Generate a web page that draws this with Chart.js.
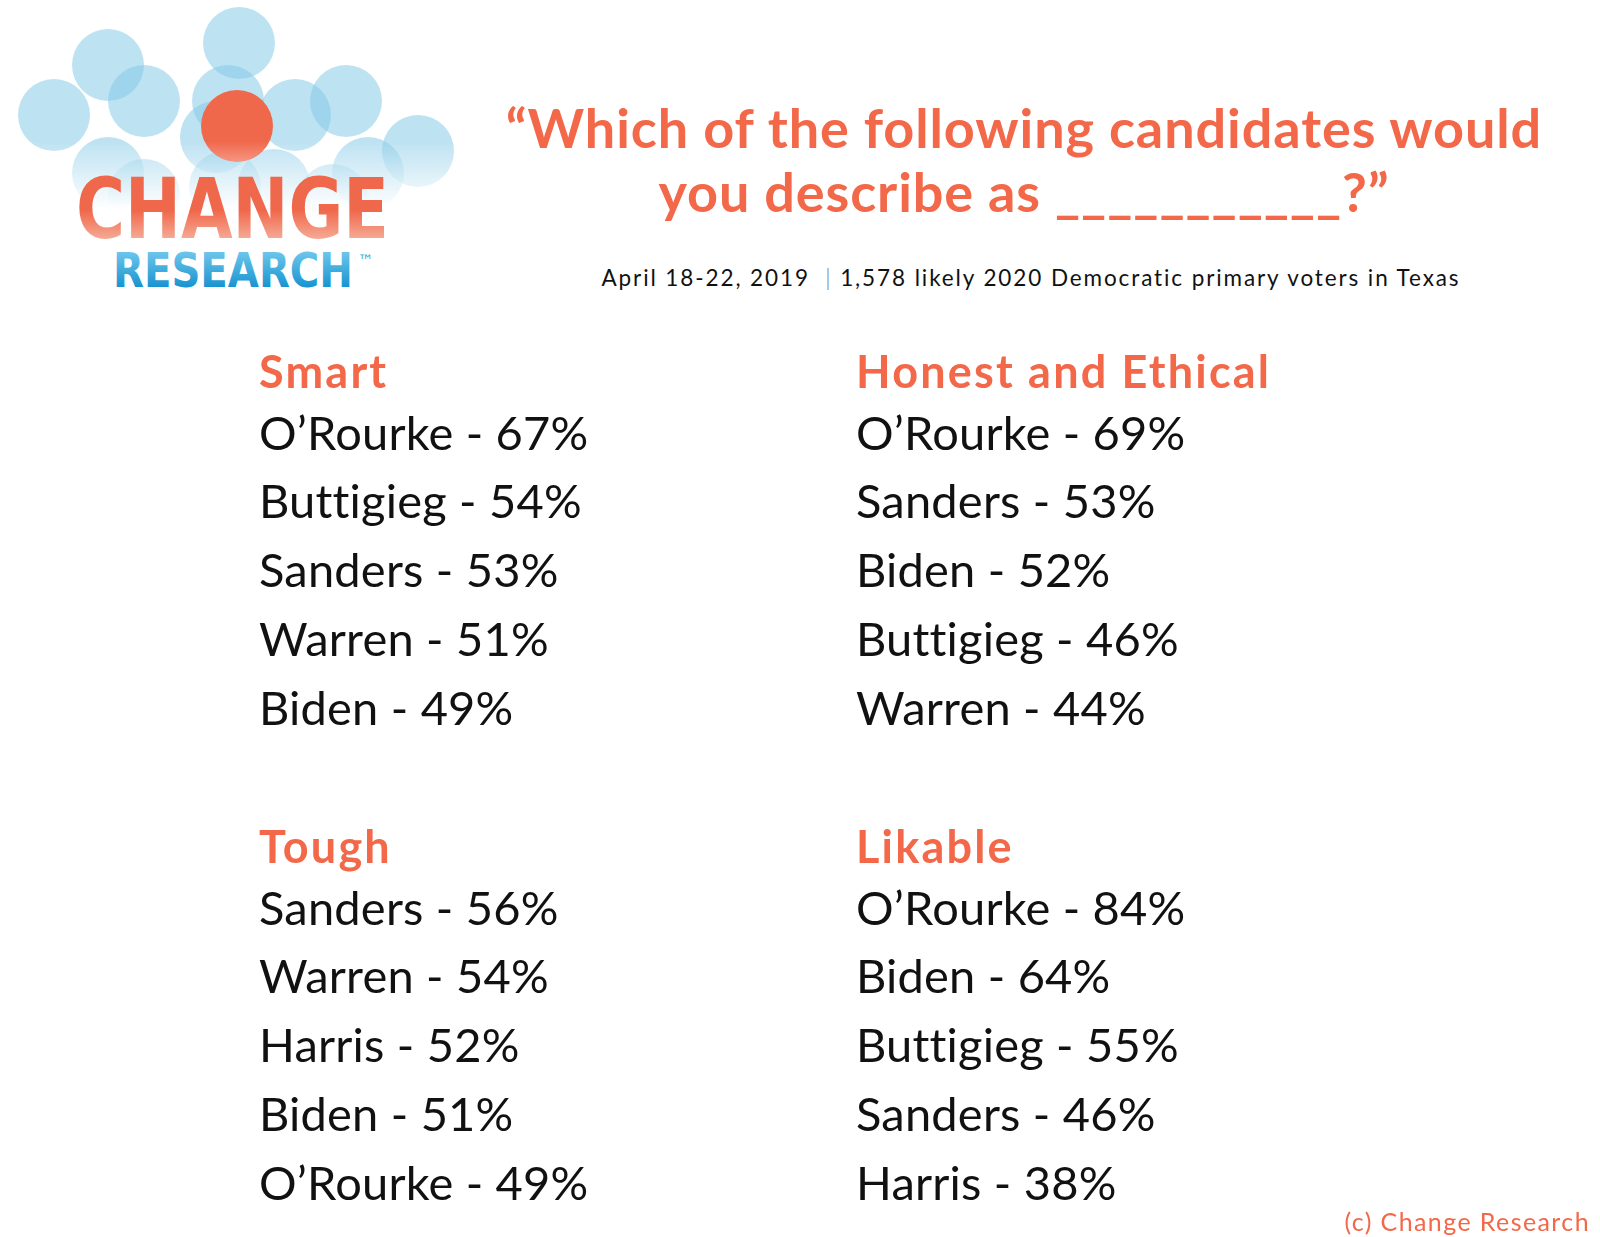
<!DOCTYPE html>
<html>
<head>
<meta charset="utf-8">
<script src="https://cdn.jsdelivr.net/npm/chart.js@4.4.1/dist/chart.umd.min.js"></script>
<style>
  html, body { margin: 0; padding: 0; background: #fff; }
  body { width: 1600px; height: 1237px; position: relative; overflow: hidden; font-family: Lato, sans-serif; }
  #logo { position: absolute; left: 0; top: 0; }
  .title { position: absolute; left: 474px; width: 1100px; text-align: center; color: #f26849; font-weight: 700; font-size: 54px; line-height: 64px; letter-spacing: 0.9px; white-space: nowrap; }
  .subtitle { position: absolute; left: 481px; width: 1100px; top: 264px; text-align: center; color: #111; font-size: 22.5px; line-height: 27px; letter-spacing: 1.9px; white-space: nowrap; }
  .subtitle .sep { color: #777; font-weight: 300; }
  .panel { position: absolute; width: 600px; height: 398px; }
  .footer { position: absolute; right: 10px; top: 1206px; color: #f26849; font-size: 25px; line-height: 30px; letter-spacing: 1.4px; }
</style>
</head>
<body>

<svg id="logo" width="460" height="300" viewBox="0 0 460 300">
  <defs>
    <linearGradient id="fade" x1="0" y1="0" x2="0" y2="300" gradientUnits="userSpaceOnUse">
      <stop offset="0.47" stop-color="#fff" stop-opacity="1"/>
      <stop offset="0.70" stop-color="#fff" stop-opacity="0"/>
    </linearGradient>
    <mask id="fadeMask" maskUnits="userSpaceOnUse" x="0" y="0" width="460" height="300">
      <rect x="0" y="0" width="460" height="300" fill="url(#fade)"/>
    </mask>
    <linearGradient id="changeFill" x1="0" y1="177" x2="0" y2="238" gradientUnits="userSpaceOnUse">
      <stop offset="0.55" stop-color="#f0684b"/>
      <stop offset="1" stop-color="#f5a893"/>
    </linearGradient>
    <linearGradient id="researchFill" x1="0" y1="252" x2="0" y2="287" gradientUnits="userSpaceOnUse">
      <stop offset="0" stop-color="#6cc6ec"/>
      <stop offset="1" stop-color="#1894d0"/>
    </linearGradient>
  </defs>
  <g mask="url(#fadeMask)">
    <g fill="rgb(137,203,232)" fill-opacity="0.56">
      <circle cx="54" cy="115" r="36"/>
      <circle cx="108" cy="65" r="36"/>
      <circle cx="144" cy="101" r="36"/>
      <circle cx="239" cy="43" r="36"/>
      <circle cx="228" cy="101" r="36"/>
      <circle cx="216" cy="137" r="36"/>
      <circle cx="295" cy="115" r="36"/>
      <circle cx="346" cy="101" r="36"/>
      <circle cx="418" cy="151" r="36"/>
      <circle cx="368" cy="173" r="36"/>
      <circle cx="108" cy="173" r="36"/>
      <circle cx="144" cy="195" r="36"/>
      <circle cx="274" cy="185" r="36"/>
      <circle cx="225" cy="187" r="36"/>
      <circle cx="333" cy="200" r="36"/>
    </g>
    <circle cx="237" cy="126" r="36" fill="#f0684b"/>
  </g>
  <text x="76" y="238" font-family="DejaVu Sans Condensed, DejaVu Sans" font-weight="bold" font-size="84" textLength="313" lengthAdjust="spacingAndGlyphs" fill="url(#changeFill)">CHANGE</text>
  <text x="113" y="287" font-family="DejaVu Sans Condensed, DejaVu Sans" font-weight="bold" font-size="48" textLength="240" lengthAdjust="spacingAndGlyphs" fill="url(#researchFill)">RESEARCH</text>
  <text x="358" y="266" font-family="DejaVu Sans" font-size="16" fill="#3aa8dc">™</text>
</svg>

<div class="title" style="top:96px">“Which of the following candidates would</div>
<div class="title" style="top:160px">you describe as ___________?”</div>
<div class="subtitle">April 18-22, 2019&nbsp; <span class="sep">|</span> 1,578 likely 2020 Democratic primary voters in Texas</div>

<div class="panel" style="left:259px; top:346px"><canvas id="smart"></canvas></div>
<div class="panel" style="left:856px; top:346px"><canvas id="honest"></canvas></div>
<div class="panel" style="left:259px; top:821px"><canvas id="tough"></canvas></div>
<div class="panel" style="left:856px; top:821px"><canvas id="likable"></canvas></div>

<div class="footer">(c) Change Research</div>

<script>
// Données (4 questions, top 5 de chaque)
const panelTitles = ['Smart', 'Honest and Ethical', 'Tough', 'Likable'];

const smartNames = ['O’Rourke', 'Buttigieg', 'Sanders', 'Warren', 'Biden'];
const smartValues = [67, 54, 53, 51, 49];

const honestNames = ['O’Rourke', 'Sanders', 'Biden', 'Buttigieg', 'Warren'];
const honestValues = [69, 53, 52, 46, 44];

const toughNames = ['Sanders', 'Warren', 'Harris', 'Biden', 'O’Rourke'];
const toughValues = [56, 54, 52, 51, 49];

const likableNames = ['O’Rourke', 'Biden', 'Buttigieg', 'Sanders', 'Harris'];
const likableValues = [84, 64, 55, 46, 38];

const ORANGE = '#f26849';

Chart.defaults.font.family = 'Lato';
Chart.defaults.animation = false;

// Ecrit "Nom - xx%" sur chaque ligne de l'axe des catégories
const rowLabels = {
    id: 'rowLabels',
    beforeDraw(chart) {
        // titre un peu plus espacé (la police d'origine est plus large)
        chart.ctx.letterSpacing = '2.2px';
    },
    afterDatasetsDraw(chart) {
        const ctx = chart.ctx;
        const yScale = chart.scales.y;
        const values = chart.data.datasets[0].data;
        ctx.save();
        ctx.letterSpacing = '0.2px';
        ctx.font = '400 47px Lato';
        ctx.fillStyle = '#111';
        ctx.textAlign = 'left';
        ctx.textBaseline = 'middle';
        chart.data.labels.forEach((name, i) => {
            ctx.fillText(`${name} - ${values[i]}%`, chart.chartArea.left, yScale.getPixelForValue(i));
        });
        ctx.restore();
    }
};

function createPanel(canvasId, title, names, values) {
    const ctx = document.getElementById(canvasId).getContext('2d');
    return new Chart(ctx, {
        type: 'bar',
        data: {
            labels: names,
            datasets: [{
                data: values,
                backgroundColor: 'transparent',
                borderWidth: 0
            }]
        },
        options: {
            indexAxis: 'y',
            responsive: true,
            maintainAspectRatio: false,
            layout: { padding: 0 },
            plugins: {
                legend: { display: false },
                tooltip: { enabled: false },
                title: {
                    display: true,
                    text: title,
                    align: 'start',
                    color: ORANGE,
                    padding: { top: 0, bottom: 0 },
                    font: { size: 45, weight: 'bold', lineHeight: 1.2 }
                }
            },
            scales: {
                x: { display: false, min: 0, max: 100 },
                y: { display: false }
            }
        },
        plugins: [rowLabels]
    });
}

createPanel('smart', panelTitles[0], smartNames, smartValues);
createPanel('honest', panelTitles[1], honestNames, honestValues);
createPanel('tough', panelTitles[2], toughNames, toughValues);
createPanel('likable', panelTitles[3], likableNames, likableValues);
</script>
</body>
</html>
